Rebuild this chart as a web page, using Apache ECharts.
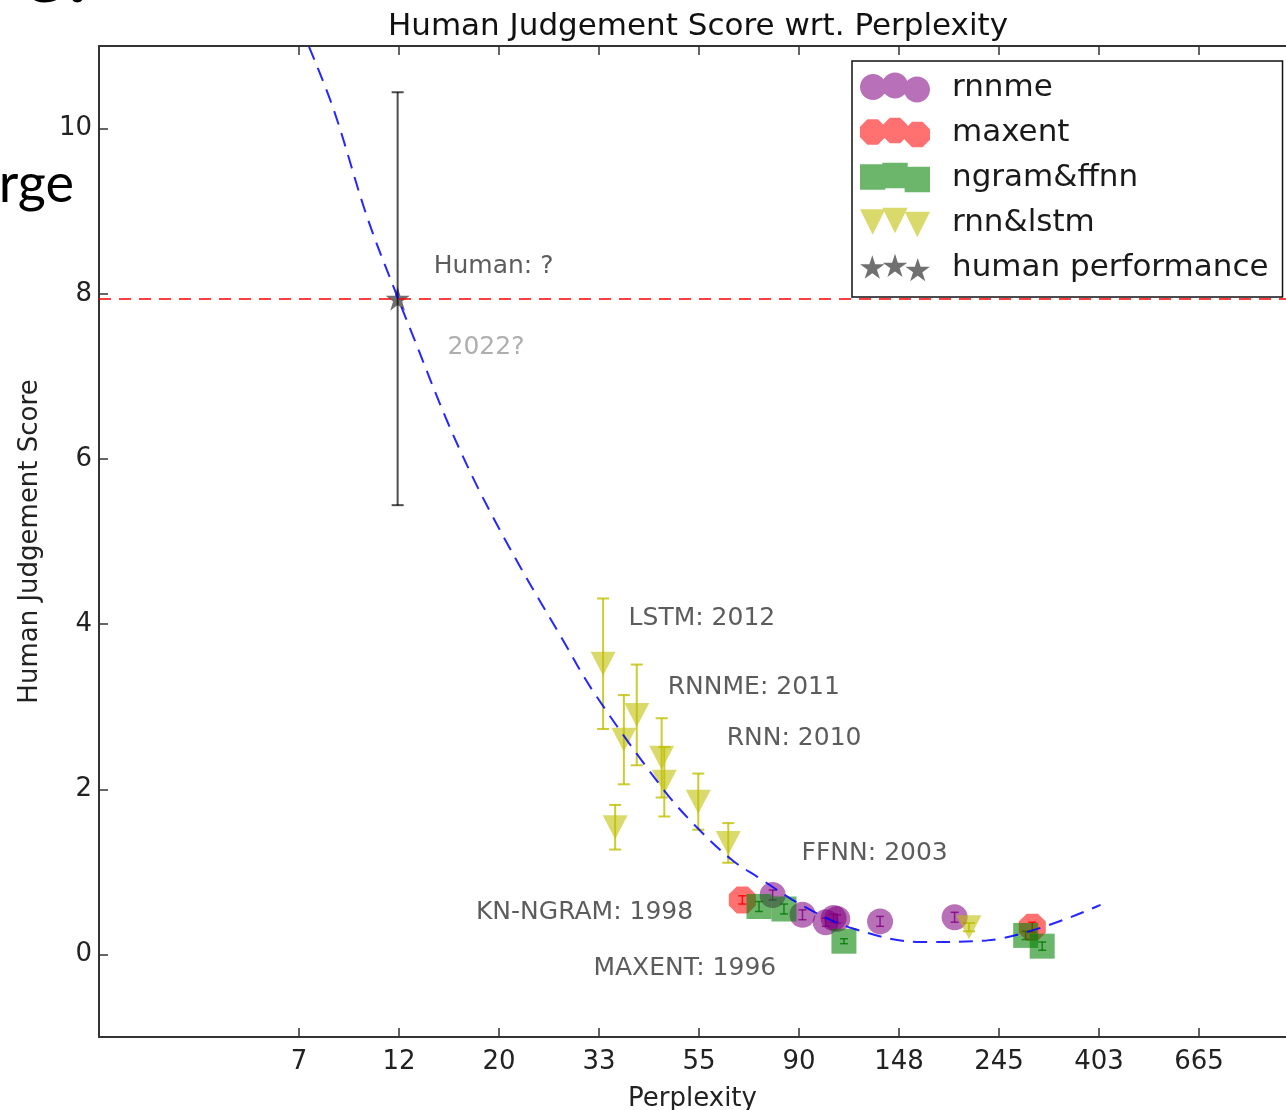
<!DOCTYPE html>
<html>
<head>
<meta charset="utf-8">
<title>Human Judgement Score wrt. Perplexity</title>
<script src="https://cdn.jsdelivr.net/npm/echarts@6/dist/echarts.min.js"></script>
<style>
  html, body { margin: 0; padding: 0; background: #fff; }
  #chart { width: 1286px; height: 1110px; }
</style>
</head>
<body>
<div id="chart"></div>
<script>
// x axis is ln(perplexity); ticks at e^2 .. e^6.5, labelled with the rounded perplexity
const tickLogs = [2, 2.5, 3, 3.5, 4, 4.5, 5, 5.5, 6, 6.5]
const tickLabels = ['7', '12', '20', '33', '55', '90', '148', '245', '403', '665']
const yTicks = [0, 2, 4, 6, 8, 10]

const seriesNames = ['rnnme', 'maxent', 'ngram&ffnn', 'rnn&lstm', 'human performance']

// [perplexity, score, error]
const rnnme = [
  [78.9, 0.72, 0.06], [91.6, 0.48, 0.06], [102.9, 0.39, 0.05], [107, 0.44, 0.05],
  [109, 0.43, 0.05], [135, 0.40, 0.06], [196, 0.45, 0.06]
]
const maxent = [[67.8, 0.66, 0.05], [289, 0.33, 0.06]]
const ngramFfnn = [
  [73.7, 0.58, 0.06], [83.5, 0.55, 0.06], [112.7, 0.16, 0.03], [279.6, 0.23, 0.05], [303.7, 0.10, 0.05]
]
const rnnLstm = [
  [33.8, 3.52, 0.79], [37.5, 2.60, 0.54], [40.0, 2.90, 0.61], [45.3, 2.38, 0.48],
  [45.9, 2.09, 0.42], [54.4, 1.85, 0.34], [63.2, 1.35, 0.24], [35.9, 1.54, 0.27], [210.6, 0.33, 0.05]
]
const human = [[12.1, 7.94, 2.5]]

// dashed fit curve
const curvePerplexity = [7.77, 8.80, 10.40, 12.11, 13.13, 15.52, 18.34, 22.40, 27.36, 32.30, 45.8, 54.2, 64.5, 73.1, 92.3, 118.5, 165.5, 230.4, 406.6]
const curveScore = [10.99, 10.22, 8.92, 7.95, 7.46, 6.45, 5.58, 4.68, 3.85, 3.17, 1.99, 1.53, 1.14, 0.94, 0.58, 0.31, 0.15, 0.17, 0.60]

// text notes: label, perplexity, score (left-middle anchor)
const noteTexts = ['Human: ?', '2022?', 'LSTM: 2012', 'RNNME: 2011', 'RNN: 2010', 'FFNN: 2003', 'KN-NGRAM: 1998', 'MAXENT: 1996']
const notePerplexity = [14.49, 15.53, 38.4, 46.7, 62.7, 91.2, 17.9, 32.2]
const noteScores = [8.37, 7.39, 4.10, 3.27, 2.65, 1.26, 0.54, -0.14]

const FONT = 'DejaVu Sans'
const colors = {
  rnnme: 'rgba(128,0,128,0.7)',
  maxent: 'rgba(255,0,0,0.7)',
  ngram: 'rgba(0,128,0,0.72)',
  rnn: 'rgba(191,191,0,0.72)',
  human: 'rgba(0,0,0,0.7)'
}

// marker outlines (unit size)
const octagon = [[0.924,0.383],[0.383,0.924],[-0.383,0.924],[-0.924,0.383],[-0.924,-0.383],[-0.383,-0.924],[0.383,-0.924],[0.924,-0.383]]
const triDown = [[-1,-1],[1,-1],[0,1]]
const star = [[0,-1],[0.224,-0.308],[0.951,-0.309],[0.362,0.118],[0.588,0.809],[0,0.381],[-0.588,0.809],[-0.362,0.118],[-0.951,-0.309],[-0.224,-0.308]]
const square = [[-1,-1],[1,-1],[1,1],[-1,1]]
let circle = []
for (let i = 0; i < 32; i++) {
  circle.push([Math.cos(i / 32 * Math.PI * 2), Math.sin(i / 32 * Math.PI * 2)])
}

function poly(pts, cx, cy, r) {
  return 'M' + pts.map(p => (cx + p[0] * r).toFixed(2) + ',' + (cy + p[1] * r).toFixed(2)).join('L') + 'Z'
}
function symbol(pts) {
  return 'path://' + poly(pts, 0, 0, 1)
}
// matplotlib style legend handle: three markers, slightly staggered
function legendIcon(pts, r) {
  return 'path://' + poly(pts, 13, 14.5, r) + poly(pts, 35, 13, r) + poly(pts, 57, 17, r)
}

const lnx = v => Math.log(v)

function errorBars(rows, color, cap, width) {
  return {
    type: 'custom',
    silent: true,
    data: rows.map(r => [lnx(r[0]), r[1], r[2]]),
    renderItem: (params, api) => {
      const x = api.value(0)
      const y = api.value(1)
      const e = api.value(2)
      const hi = api.coord([x, y + e])
      const lo = api.coord([x, y - e])
      const st = { stroke: color, lineWidth: width }
      return {
        type: 'group',
        children: [
          { type: 'line', shape: { x1: hi[0], y1: hi[1], x2: lo[0], y2: lo[1] }, style: st },
          { type: 'line', shape: { x1: hi[0] - cap, y1: hi[1], x2: hi[0] + cap, y2: hi[1] }, style: st },
          { type: 'line', shape: { x1: lo[0] - cap, y1: lo[1], x2: lo[0] + cap, y2: lo[1] }, style: st }
        ]
      }
    }
  }
}

function scatter(name, rows, sym, size, color) {
  return {
    name: name,
    type: 'scatter',
    symbol: sym,
    symbolSize: size,
    itemStyle: { color: color },
    data: rows.map(r => [lnx(r[0]), r[1]])
  }
}

function tickText(v) {
  const i = tickLogs.findIndex(t => Math.abs(t - v) < 1e-6)
  return i < 0 ? '' : tickLabels[i]
}

const axisColor = '#333'
const textColor = '#222'
// the plot frame runs past the right edge of the picture (ln 7 would sit at x=1298),
// so the visible part ends at ln 6.935
const xMin = 1
const xMax = 6.935

const myChart = echarts.init(document.getElementById('chart'))
myChart.setOption({
  animation: false,
  backgroundColor: '#fff',
  textStyle: { fontFamily: FONT },
  title: {
    text: 'Human Judgement Score wrt. Perplexity',
    left: 693,
    top: 6,
    textAlign: 'center',
    textStyle: { fontFamily: FONT, fontSize: 31, fontWeight: 'normal', color: '#111' }
  },
  grid: { left: 99, top: 46, right: 0, height: 991, outerBoundsMode: 'none' },
  legend: {
    orient: 'vertical',
    left: 852,
    top: 61,
    padding: [11, 14, 14, 8],
    itemWidth: 70,
    itemHeight: 30,
    itemGap: 14,
    borderColor: '#111',
    borderWidth: 1.5,
    backgroundColor: '#fff',
    selectedMode: false,
    textStyle: { fontFamily: FONT, fontSize: 31, color: '#1a1a1a', padding: [0, 0, 0, 17], lineHeight: 30 },
    data: [
      { name: seriesNames[0], icon: legendIcon(circle, 13) },
      { name: seriesNames[1], icon: legendIcon(octagon, 13.5) },
      { name: seriesNames[2], icon: legendIcon(square, 12.5) },
      { name: seriesNames[3], icon: legendIcon(triDown, 12.5) },
      { name: seriesNames[4], icon: legendIcon(star, 12.5) }
    ]
  },
  xAxis: [
    {
      type: 'value',
      min: xMin,
      max: xMax,
      name: 'Perplexity',
      nameLocation: 'middle',
      nameGap: 49,
      nameTextStyle: { fontFamily: FONT, fontSize: 26, color: textColor },
      axisLine: { show: true, onZero: false, lineStyle: { color: axisColor, width: 2 } },
      axisTick: { show: true, inside: true, length: 9, customValues: tickLogs, lineStyle: { color: axisColor, width: 1.5 } },
      axisLabel: { customValues: tickLogs, formatter: tickText, margin: 12, fontFamily: FONT, fontSize: 26, color: textColor },
      splitLine: { show: false }
    },
    {
      type: 'value',
      position: 'top',
      min: xMin,
      max: xMax,
      axisLine: { show: true, onZero: false, lineStyle: { color: axisColor, width: 2 } },
      axisTick: { show: true, inside: true, length: 9, customValues: tickLogs, lineStyle: { color: axisColor, width: 1.5 } },
      axisLabel: { show: false },
      splitLine: { show: false }
    }
  ],
  yAxis: {
    type: 'value',
    min: -1,
    max: 11,
    name: 'Human Judgement Score',
    nameLocation: 'middle',
    nameGap: 56,
    nameTextStyle: { fontFamily: FONT, fontSize: 26, color: textColor },
    axisLine: { show: true, onZero: false, lineStyle: { color: axisColor, width: 2 } },
    axisTick: { show: true, inside: true, length: 9, customValues: yTicks, lineStyle: { color: axisColor, width: 1.5 } },
    axisLabel: { customValues: yTicks, margin: 7, fontFamily: FONT, fontSize: 26, color: textColor },
    splitLine: { show: false }
  },
  graphic: [
    // bits of the surrounding slide
    { type: 'text', style: { text: 'e.', x: 88, y: -27, textAlign: 'right', textVerticalAlign: 'middle', font: '90px Lato', fill: '#000' } },
    { type: 'text', style: { text: 'rge', x: 74, y: 185, textAlign: 'right', textVerticalAlign: 'middle', font: '54px Lato', fill: '#000' } }
  ],
  series: [
    errorBars(rnnme, 'rgba(128,0,128,0.8)', 4, 1.5),
    errorBars(maxent, 'rgba(255,0,0,0.85)', 4, 1.5),
    errorBars(ngramFfnn, 'rgba(0,110,0,0.8)', 4, 1.5),
    errorBars(rnnLstm, 'rgba(191,191,0,0.8)', 6, 2),
    errorBars(human, 'rgba(0,0,0,0.7)', 6, 2),
    scatter(seriesNames[0], rnnme, 'circle', 26, colors.rnnme),
    scatter(seriesNames[1], maxent, symbol(octagon), 27, colors.maxent),
    scatter(seriesNames[2], ngramFfnn, 'rect', 25, colors.ngram),
    scatter(seriesNames[3], rnnLstm, symbol(triDown), [25, 24], colors.rnn),
    Object.assign(scatter(seriesNames[4], human, symbol(star), 24, colors.human), {
      markLine: {
        silent: true,
        symbol: 'none',
        label: { show: false },
        lineStyle: { color: 'rgba(255,0,0,0.75)', width: 2, type: [12, 8] },
        data: [{ yAxis: human[0][1] }]
      }
    }),
    {
      type: 'line',
      silent: true,
      smooth: 0.35,
      showSymbol: false,
      lineStyle: { color: 'rgba(0,0,255,0.85)', width: 2, type: [14, 9] },
      data: curvePerplexity.map((p, i) => [lnx(p), curveScore[i]])
    },
    {
      type: 'scatter',
      silent: true,
      symbolSize: 0,
      itemStyle: { color: 'rgba(0,0,0,0)' },
      label: {
        show: true,
        position: 'right',
        distance: 0,
        offset: [0, 3],
        fontFamily: FONT,
        fontSize: 25,
        formatter: p => p.name
      },
      data: noteTexts.map((t, i) => ({
        name: t,
        value: [lnx(notePerplexity[i]), noteScores[i]],
        label: { color: t === '2022?' ? '#9a9a9a' : '#333' }
      }))
    }
  ]
})
</script>
</body>
</html>
